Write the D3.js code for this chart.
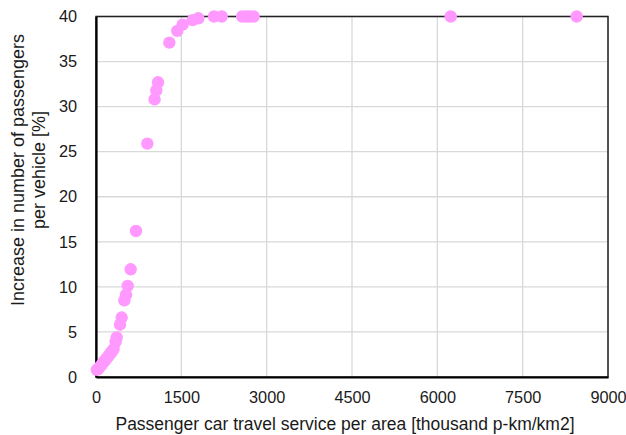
<!DOCTYPE html>
<html><head><meta charset="utf-8">
<script src="https://cdn.jsdelivr.net/npm/d3@7"></script>
<style>body{margin:0;background:#fff}svg{display:block;font-family:"Liberation Sans",Arial,sans-serif}</style>
</head><body><svg id="c" width="626" height="435"></svg>
<script>
const xValues = [15,40,65,90,115,140,165,190,215,240,265,290,310,345,363,422,451,498,527,557,610,703,902,1030,1060,1090,1289,1429,1523,1700,1799,2074,2209,2570,2640,2700,2770,6235,8450];
const yValues = [0.8,0.9,1.1,1.3,1.5,1.7,1.9,2.1,2.3,2.5,2.7,2.9,3.1,3.9,4.4,5.8,6.6,8.5,9.1,10.1,11.95,16.2,25.9,30.8,31.8,32.7,37.1,38.4,39.1,39.6,39.8,40,40,40,40,40,40,40,40];
const xTicks = [0,1500,3000,4500,6000,7500,9000];
const yTicks = [0,5,10,15,20,25,30,35,40];
const xTitle = "Passenger car travel service per area [thousand p-km/km2]";
const yTitle = ["Increase in number of passengers","per vehicle [%]"];

const svg = d3.select("#c");
const L=96,R=608,T=16.5,B=377;
const x = d3.scaleLinear().domain([0,9000]).range([L,R]);
const y = d3.scaleLinear().domain([0,40]).range([B,T]);

svg.append("g").selectAll("line").data(xTicks.slice(1)).join("line")
  .attr("x1",d=>x(d)).attr("x2",d=>x(d)).attr("y1",T).attr("y2",B)
  .attr("stroke","#d9d9d9").attr("stroke-width",1.3);
svg.append("g").selectAll("line").data(yTicks.slice(1)).join("line")
  .attr("x1",L).attr("x2",R).attr("y1",d=>y(d)).attr("y2",d=>y(d))
  .attr("stroke","#d9d9d9").attr("stroke-width",1.3);
svg.append("rect").attr("x",L).attr("y",T).attr("width",R-L).attr("height",B-T)
  .attr("fill","none").attr("stroke","#222").attr("stroke-width",1.5);

const xa = svg.append("g").attr("transform",`translate(0,${B})`)
  .call(d3.axisBottom(x).tickValues(xTicks).tickSize(0).tickPadding(14).tickFormat(d3.format("d")));
const ya = svg.append("g").attr("transform",`translate(${L},0)`)
  .call(d3.axisLeft(y).tickValues(yTicks).tickSize(0).tickPadding(19).tickFormat(d3.format("d")));
[xa,ya].forEach(a=>{
  a.select(".domain").attr("stroke","#000").attr("stroke-width",2.2);
  a.selectAll("text").attr("font-size",16.3).attr("fill","#1a1a1a")
   .attr("font-family","'Liberation Sans',Arial,sans-serif");
});

svg.append("g").selectAll("circle").data(xValues.map((v,i)=>[v,yValues[i]])).join("circle")
  .attr("cx",d=>x(d[0])).attr("cy",d=>y(d[1])).attr("r",6.2).attr("fill","#ff99ff");

svg.append("text").attr("x",345).attr("y",430).attr("text-anchor","middle")
  .attr("font-size",17.5).attr("fill","#1a1a1a").text(xTitle);
const yt = svg.append("text").attr("transform",`translate(24,170) rotate(-90)`)
  .attr("text-anchor","middle").attr("font-size",18).attr("fill","#1a1a1a");
yt.selectAll("tspan").data(yTitle).join("tspan").attr("x",0).attr("dy",(d,i)=>i?21:0).text(d=>d);
</script></body></html>
